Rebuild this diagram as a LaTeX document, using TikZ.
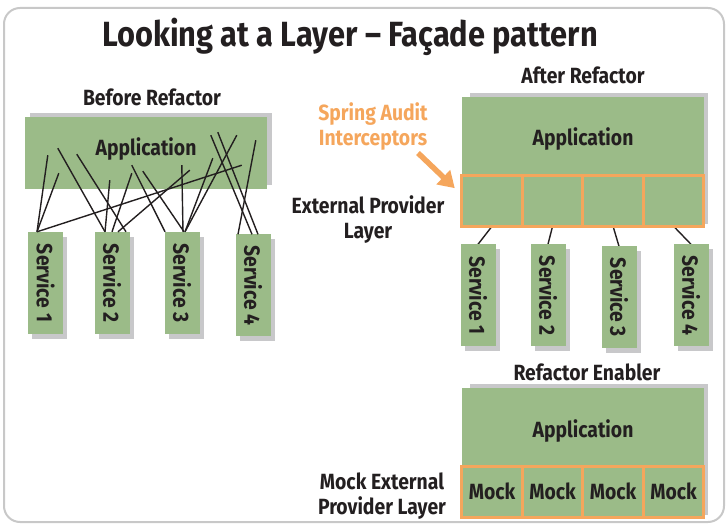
\documentclass[tikz,border=0pt]{standalone}
\usepackage{fontspec}
\setmainfont{Fira Sans}[FakeStretch=0.88]
\usetikzlibrary{positioning,calc,backgrounds,shadows,arrows.meta}

\definecolor{boxgreen}{RGB}{155,187,136}
\definecolor{facadeorange}{RGB}{245,166,92}
\definecolor{shadegray}{RGB}{200,200,202}
\definecolor{inkblack}{RGB}{35,31,32}
\definecolor{framegray}{RGB}{200,200,200}

\tikzset{
  heading/.style={font=\fontsize{22}{25}\selectfont\bfseries, text=inkblack, align=center},
  layerbox/.style={heading, fill=boxgreen, minimum width=242, inner sep=0},
  servicebox/.style={heading, fill=boxgreen, minimum width=35, minimum height=102, inner sep=0,
    general shadow={fill=shadegray, shadow xshift=4, shadow yshift=-5}},
  providercell/.style={heading, draw=facadeorange, line width=3, fill=boxgreen,
    minimum width=60.5, minimum height=51, inner sep=0, outer sep=0},
  wire/.style={draw=inkblack, line width=1.4},
}

\begin{document}
\begin{tikzpicture}[x=1pt, y=1pt]
\useasboundingbox (0,0) rectangle (728,525);

\node[font=\fontsize{35}{40}\selectfont\bfseries, text=inkblack] (title) at (350,488)
  {Looking at a Layer -- Façade pattern};

% before refactor: every service wired straight into the application
\node[heading] (before) at (152,428) {Before Refactor};
\node[layerbox, minimum height=72, text depth=12,
  general shadow={fill=shadegray, shadow xshift=5, shadow yshift=4}] (lapp) at (146,372) {Application};
\foreach \i/\x/\y in {1/45.5/242, 2/112/242, 3/182/242, 4/253/239.5}
  \node[servicebox] (ls\i) at (\x,\y) {\rotatebox{-90}{Service \i}};
\foreach \s/\dx/\ax/\ay in {1/-8.5/23/34, 1/-8.5/34/16, 1/-8.5/217/24,
    2/-7/33/41, 2/14/52/35, 2/-7/85/9, 2/0/107/16, 2/6/165/19,
    3/-17/107/24, 3/2/118/18, 3/1/157/24, 3/3/188/31, 3/3/212/54,
    4/-1/186/54, 4/5/193/57, 4/-15/231/49}
  \draw[wire] ($(ls\s.north)+(\dx,0)$) -- ($(lapp.south west)+(\ax,\ay)$);

% after refactor: one provider per service under the application
\node[heading] (after) at (583,450) {After Refactor};
\node[layerbox, minimum height=78, text height=24] (rapp) at (583,389) {Application};
\node[providercell, below right=0pt and 0pt of rapp.south west] (rcell1) {};
\foreach \i [count=\j from 2] in {1,2,3}
  \node[providercell, right=0pt of rcell\i] (rcell\j) {};
\foreach \i/\x/\y in {1/478/229.5, 2/548/229.5, 3/619/227.5, 4/691/229.5}
  \node[servicebox] (rs\i) at (\x,\y) {\rotatebox{-90}{Service \i}};

\node[heading, text=facadeorange] (spring) at (373,398) {Spring Audit\\Interceptors};
\node[heading] (extprov) at (368,305) {External Provider\\Layer};
\coordinate (springtail) at (418,372);
\draw[facadeorange, line width=5.5, -{Triangle[length=16, width=19]}]
  (springtail) -- ($(rcell1.north west)+(-7,-13)$);

% refactor enabler: mocks in place of the providers
\node[heading] (enabler) at (587,153) {Refactor Enabler};
\node[layerbox, minimum height=78, text height=26] (mapp) at (583,98) {Application};
\node[providercell, below right=0pt and 0pt of mapp.south west] (mcell1) {Mock};
\foreach \i [count=\j from 2] in {1,2,3}
  \node[providercell, right=0pt of mcell\i] (mcell\j) {Mock};
\node[heading] (mockprov) at (382,29) {Mock External\\Provider Layer};

\begin{scope}[on background layer]
  \draw[framegray, line width=2, rounded corners=16] (4,3) rectangle (724,517);
  \fill[shadegray] ($(rapp.north west)+(8,4)$) rectangle ($(rcell4.south east)+(4,2)$);
  \fill[shadegray] ($(mapp.north west)+(8,4)$) rectangle ($(mcell4.south east)+(4,2)$);
  \foreach \i in {1,...,4}
    \draw[wire] (rs\i.north) -- (rcell\i.south);
\end{scope}
\end{tikzpicture}
\end{document}
